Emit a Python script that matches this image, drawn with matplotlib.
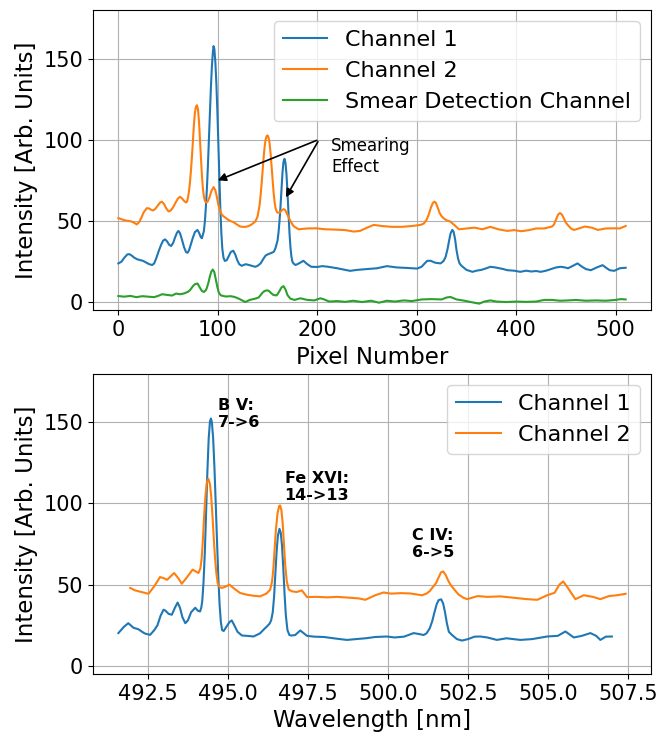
import matplotlib
matplotlib.use("Agg")
import matplotlib.pyplot as plt

# --- raw detector read-out (pixel space) ---
ch1_pix = [0, 3, 6, 9, 11, 13, 16, 19, 22, 25, 28, 31, 34, 36, 38, 40.5, 43, 45, 47, 49, 51, 53,
           55, 57, 59, 60.5, 62, 64, 66, 68, 69.5, 71, 73, 75, 77, 79.5, 81, 83, 84, 86, 87, 88,
           89, 90, 91, 92, 93, 94, 95, 95.7, 96.5, 97.5, 98.5, 99.5, 100.5, 101.5, 102.5, 103.5,
           104.5, 105.7, 107, 109, 111, 113, 115.5, 117.5, 119.5, 121.5, 124, 128, 132, 137.5,
           140, 143, 146, 148, 150, 152, 154, 156, 157, 158, 160, 161, 162, 163, 164, 165, 166,
           167, 168, 169, 170, 171, 172, 173, 174, 175, 176, 178, 180, 183, 186, 190, 194, 200,
           205, 210, 215, 220, 228, 233, 240, 250, 260, 270, 280, 290, 300.5, 305, 308, 310.6,
           314, 318, 321, 324, 327, 329, 331, 332.5, 334, 335.7, 337, 338.5, 340, 341.5, 343,
           345, 350, 356, 360, 365, 370, 374, 379, 383, 387, 391, 398, 404, 410, 415, 420,
           424.6, 430, 435, 440, 444.8, 449, 452, 457, 461.6, 466, 470, 475, 481, 486.8, 491,
           494, 498.5, 504, 510]
ch1_int = [24, 25, 27.5, 29.5, 29.7, 29, 27.5, 26.5, 26, 25.5, 24.5, 23.5, 23, 24, 27, 31.5, 35.5,
           38, 38.8, 37.5, 35.5, 34.7, 36.5, 40, 43, 44, 42.5, 38.5, 34, 31, 30.5, 32, 36, 40,
           43.3, 44.6, 43, 40, 39.5, 44, 50, 59, 70, 84, 100, 116, 132, 145, 154, 157.8, 156,
           148, 135, 118, 98, 78, 58, 43, 33, 27.5, 25.5, 26, 28.5, 31, 31.8, 29.5, 26, 23.5,
           22.5, 23.5, 22.9, 21.9, 22.5, 24, 27, 28.8, 29.5, 30, 30.5, 31, 32, 33.5, 38, 43,
           50, 59, 70, 80, 86.5, 88.4, 86, 79, 68, 55, 43, 34, 28, 25, 24, 23, 23.5, 24.5,
           25.6, 23.5, 21.9, 21.8, 22.3, 22, 21.5, 21, 20, 19.4, 20, 20.5, 21, 22.3, 21.5,
           21.2, 20.8, 22, 24, 25.6, 25.6, 24.5, 24.2, 24, 25.5, 28, 33, 38, 42.5, 44.6, 43.5,
           39, 32, 27, 24, 22.5, 20, 18.8, 19.5, 20, 21, 21.9, 21.5, 21, 20.5, 19.8, 19.5,
           18.8, 19.5, 19, 19.3, 18.8, 19.5, 20.5, 21.5, 21.9, 21.5, 21, 22.5, 24, 22, 20.5,
           19.8, 21.5, 22.9, 21, 19.8, 19.4, 21, 21.3]

ch2_pix = [0, 4, 8, 12, 15, 18.5, 21, 23, 25.5, 28.6, 31, 33, 35, 37, 39.5, 42, 43.7, 46, 48,
           50.4, 52.5, 55, 58, 60, 62, 64, 66, 68, 69, 70, 71, 72, 73, 74, 75, 76, 77, 78, 79,
           80, 81, 82, 83, 84, 85, 86, 87, 88, 89.7, 91.5, 93.5, 95.7, 97.5, 99, 100.5, 102.5,
           104, 105.7, 108, 110, 113, 115.8, 119, 122.5, 125, 128, 131, 134, 137.7, 140, 142,
           143, 144, 145, 146, 147, 148, 149, 150, 151, 152, 153, 154, 155, 156, 157, 158,
           159.5, 161.8, 164, 166, 167.5, 170, 173, 176, 181, 190, 199, 208, 218, 228, 236.7,
           243, 250, 256.8, 265, 275, 285, 295, 303.8, 307, 310, 312, 314, 316, 317.5, 319, 321,
           323, 325, 327, 330, 333.6, 338, 342.4, 350, 358, 366, 374, 382, 391, 398, 405, 413,
           420, 428, 436, 438, 440, 442, 444, 446, 448, 450, 452, 455, 458, 463, 469, 476, 482,
           490, 498.5, 504, 510]
ch2_int = [51.9, 51, 50.3, 50, 49.3, 48, 49.5, 52, 55.5, 58, 57.8, 57, 56.6, 57.5, 59.5, 61.5, 62,
           60.5, 58, 56, 56.5, 58.5, 62, 64, 65, 64, 62.5, 61.5, 62, 64.5, 68.5, 74, 81.5, 90,
           100, 110, 117, 120.5, 121.4, 119, 112, 101, 89, 78, 70, 65, 62.5, 61.5, 62, 64.5,
           68.5, 71, 69, 65, 60, 56, 54, 53, 52, 51, 50, 49.4, 48, 46.7, 46.5, 46.5, 47, 48,
           49.8, 53, 60, 66, 73, 81, 89, 95.5, 100, 102.3, 102.8, 101.5, 98, 92, 84, 76, 68,
           62, 58, 55.5, 55, 56.5, 57.4, 57, 54, 50, 47, 45, 45.5, 45.6, 45, 44.8, 44.5, 43.6,
           44, 46, 47.7, 47, 46.5, 46.5, 47, 47.7, 48.5, 51, 54, 58, 61, 62, 61.5, 58.5, 55,
           53, 51.8, 50.5, 49.8, 47.5, 45, 45.5, 46, 45, 46.5, 45, 44, 44.5, 43.8, 44.5, 45.5,
           45.5, 46.7, 48, 51, 54, 55, 54, 51.5, 49, 47.5, 45.5, 44.6, 45.5, 46.7, 46, 44.6,
           45.5, 45.6, 45.5, 47]

smear_pix = [0, 6, 12, 18, 24, 30, 36, 40, 44, 50, 54, 58, 62, 66, 70, 72, 75, 77, 79.6, 82, 84,
             86, 88, 89, 90.5, 92, 93.5, 95, 96.5, 98, 99.5, 101, 103, 108, 113, 117, 122, 127.6,
             132, 137.7, 141, 143, 145, 147, 149.4, 151.5, 153, 156, 159, 160, 162, 164, 166,
             168, 170, 172.9, 177, 183, 190, 197, 203, 206, 212, 220, 228, 236, 245, 254, 262,
             270, 278, 287, 295, 305, 315, 325, 330, 334, 340, 348, 356, 362.7, 368, 374, 380,
             390, 400, 410, 420, 428, 436, 444, 452, 460, 470, 480, 490, 500, 505, 510]
smear_int = [3.9, 3.5, 4, 3.2, 3.8, 3.5, 3.2, 4, 5, 4.5, 4.2, 5.4, 5, 5.5, 6.5, 7.5, 10, 11.2, 11.6,
             9, 7, 6.4, 7.5, 9, 12, 16, 19, 20.2, 18.5, 14, 9.5, 6, 4.3, 3.6, 3.8, 3.3, 2, 0.2,
             1.5, 2.3, 3, 4.5, 6, 7, 7.4, 7, 6, 4.5, 4.3, 5, 7, 9.2, 10, 8, 4.5, 2.3, 1.5, 2.5,
             1.5, 1.2, 2.5, 2, 0.5, 0.8, 0.3, 1, 0.2, 1, -0.2, 1, 0.5, 1.2, 0.8, 1.8, 2, 1.8, 3,
             3.3, 1.8, 1, 0, -0.8, 0.5, 1.2, 0.5, 0.2, 0.5, 0.3, 0.5, 1.5, 1.5, 1, 1.2, 1.5, 1,
             1.2, 1, 1.5, 2, 1.8]

# --- calibrated spectra (wavelength space) ---
wl1 = [491.58, 491.75, 491.89, 492.05, 492.2, 492.4, 492.57, 492.7, 492.8, 492.9, 492.99, 493.05,
       493.15, 493.25, 493.35, 493.43, 493.5, 493.58, 493.67, 493.75, 493.85, 493.98, 494.06,
       494.13, 494.17, 494.2, 494.24, 494.28, 494.32, 494.36, 494.4, 494.44, 494.47, 494.5,
       494.54, 494.58, 494.62, 494.66, 494.7, 494.74, 494.78, 494.82, 494.87, 494.95, 495.05,
       495.12, 495.2, 495.3, 495.44, 495.6, 495.8, 496.0, 496.15, 496.22, 496.3, 496.35, 496.4,
       496.44, 496.48, 496.52, 496.56, 496.61, 496.65, 496.69, 496.73, 496.77, 496.81, 496.86,
       496.92, 496.98, 497.1, 497.26, 497.47, 497.7, 498.0, 498.3, 498.5, 498.72, 499.0, 499.3,
       499.6, 499.97, 500.2, 500.5, 500.8, 501.0, 501.11, 501.2, 501.3, 501.38, 501.45, 501.52,
       501.58, 501.66, 501.72, 501.78, 501.84, 501.9, 502.0, 502.15, 502.31, 502.5, 502.7,
       502.88, 503.1, 503.4, 503.7, 504.13, 504.5, 504.97, 505.3, 505.54, 505.8, 506.05,
       506.32, 506.5, 506.63, 506.8, 506.99]
wl1_int = [20.2, 24, 26.3, 23.5, 22.6, 20, 19.1, 22, 25, 31, 34.6, 34, 32, 31.5, 36, 39, 36, 30,
           26.3, 28, 33, 35.8, 34, 33.5, 36, 40, 52, 70, 95, 120, 140, 150.5, 152.3, 150, 140,
           122, 100, 77, 55, 38, 27, 22, 21.5, 24, 27, 28, 25, 21, 18.7, 18.5, 18.1, 20, 23,
           24.3, 26, 28, 33, 42, 56, 70, 80, 84.4, 82, 74, 60, 44, 31, 22, 19, 18.7, 19, 21.8,
           18.5, 18, 17.8, 17, 16.5, 16, 16.5, 17, 17.8, 18.1, 17.5, 18, 20.2, 19.5, 19, 20,
           23, 27.5, 33, 38, 40.5, 41, 38.5, 33, 26, 21, 19, 16.5, 15.6, 16.5, 18, 18.1, 17.5,
           16, 17, 16, 16.5, 18.1, 18.5, 21.2, 17.5, 18.5, 20.2, 18.5, 16, 18, 18.1]

wl2 = [491.95, 492.1, 492.3, 492.52, 492.7, 492.88, 493.0, 493.1, 493.32, 493.45, 493.56, 493.7,
       493.9, 494.08, 494.14, 494.18, 494.22, 494.26, 494.3, 494.34, 494.39, 494.44, 494.48,
       494.52, 494.56, 494.6, 494.64, 494.68, 494.74, 494.81, 494.95, 495.05, 495.2, 495.38,
       495.6, 495.8, 496.0, 496.2, 496.32, 496.38, 496.42, 496.46, 496.5, 496.55, 496.6,
       496.63, 496.67, 496.71, 496.75, 496.79, 496.84, 496.9, 497.0, 497.15, 497.31, 497.47,
       497.8, 498.1, 498.4, 498.8, 499.1, 499.29, 499.6, 499.86, 500.1, 500.4, 500.7, 501.06,
       501.2, 501.3, 501.4, 501.5, 501.58, 501.65, 501.72, 501.8, 501.88, 501.95, 502.05,
       502.2, 502.35, 502.47, 502.8, 503.1, 503.51, 503.9, 504.34, 504.66, 504.97, 505.2,
       505.35, 505.47, 505.6, 505.85, 506.11, 506.4, 506.63, 506.9, 507.15, 507.42]
wl2_int = [48, 46.5, 45.5, 44.4, 49, 54.7, 54, 53, 57.2, 54, 50.6, 54, 59.3, 57.2, 60, 66, 78, 93,
           105, 112.5, 115.2, 112, 104, 92, 78, 66, 57, 51, 48.5, 48, 49, 50, 47.5, 44.9, 43.8,
           43.2, 42.8, 44.5, 46.9, 52, 60, 72, 84, 94, 98.5, 98.8, 96, 88, 75, 62, 52, 47,
           45.9, 45.5, 46.5, 42.4, 42.5, 42.2, 42.5, 42, 41.5, 40.7, 43.5, 45.2, 44.5, 44.8,
           44.6, 43.5, 44.5, 46, 48.5, 51, 54.5, 57.5, 58.2, 56, 52.5, 50, 47.5, 44, 42, 41.1,
           43, 42.5, 42.8, 42, 41.1, 40.7, 43.5, 45, 50, 52, 48.5, 41.1, 43.5, 42.5, 41.1, 43,
           43.5, 44.4]

lines = [("B V:\n7->6", 494.7, 165), ("Fe XVI:\n14->13", 496.77, 120), ("C IV:\n6->5", 500.75, 85)]

fig, (ax1, ax2) = plt.subplots(2, 1, figsize=(6.62, 7.38), dpi=100)
fig.subplots_adjust(left=0.1405, right=0.9834, top=0.9864, bottom=0.0867, hspace=0.21)

ax1.plot(ch1_pix, ch1_int, label="Channel 1")
ax1.plot(ch2_pix, ch2_int, label="Channel 2")
ax1.plot(smear_pix, smear_int, label="Smear Detection Channel")
ax1.set_ylim(-5, 180)
ax1.set_xlabel("Pixel Number", fontsize=16.5)
ax1.set_ylabel("Intensity [Arb. Units]", fontsize=16.5)
ax1.tick_params(labelsize=15)
ax1.grid(True)
ax1.legend(fontsize=16, loc="upper right")

# arrows pointing to the smeared copies of the Channel 1 peaks
for xy in [(97.4, 74.5), (167, 63.2)]:
    ax1.annotate("", xy=xy, xytext=(202, 100.4),
                 arrowprops=dict(arrowstyle="-|>", color="black", lw=1.2, mutation_scale=12))
ax1.text(214, 102, "Smearing\nEffect", fontsize=12, va="top", ha="left")

ax2.plot(wl1, wl1_int, label="Channel 1")
ax2.plot(wl2, wl2_int, label="Channel 2")
ax2.set_ylim(-5, 180)
ax2.set_xlabel("Wavelength [nm]", fontsize=16.5)
ax2.set_ylabel("Intensity [Arb. Units]", fontsize=16.5)
ax2.tick_params(labelsize=15)
ax2.grid(True)
ax2.legend(fontsize=16, loc="upper right")
for txt, x, y in lines:
    ax2.text(x, y, txt, fontsize=11.5, fontweight="bold", va="top", ha="left")

plt.savefig("out.png")
plt.close()
